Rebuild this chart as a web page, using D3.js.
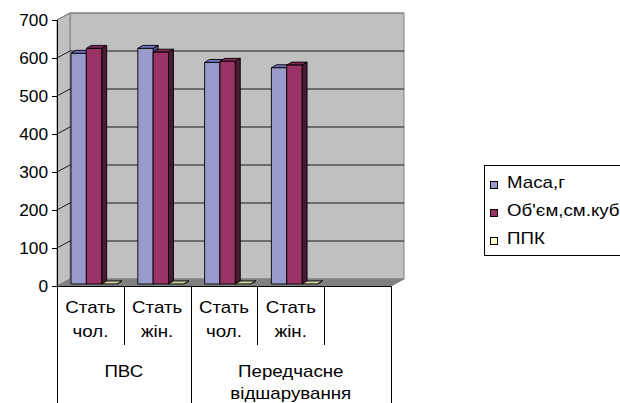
<!DOCTYPE html>
<html>
<head>
<meta charset="utf-8">
<script src="https://cdn.jsdelivr.net/npm/d3@7/dist/d3.min.js"></script>
<style>
  html, body { margin: 0; padding: 0; background: #fff; }
  svg { display: block; }
  text { font-family: "Liberation Sans", Arial, sans-serif; fill: #000; }
</style>
</head>
<body>
<svg id="chart" width="620" height="403"></svg>
<script>
// Categories (two-level axis: sex within group); the fifth slot is empty
const categories = ["Стать\nчол.", "Стать\nжін.", "Стать\nчол.", "Стать\nжін.", ""];
const categoryGroup = [0, 0, 1, 1, 1];
const groupLabels = ["ПВС", "Передчасне\nвідшарування"];

const seriesNames = ["Маса,г", "Об'єм,см.куб", "ППК"];
const masa = [607, 620, 583, 569];
const obyem = [620, 610, 586, 576];
const ppk = [0.2, 0.2, 0.2, 0.2];

const yTicks = [0, 100, 200, 300, 400, 500, 600, 700];

const seriesValues = [masa, obyem, ppk];
const seriesColors = [
  { front: "#9999cc", top: "#7373bd", side: "#4d4d80", key: "#9999cc" },
  { front: "#993366", top: "#7d2952", side: "#4a1a33", key: "#993366" },
  { front: "#ffffcc", top: "#cfcfa3", side: "#8c8c6e", key: "#ffffcc" }
];

const svg = d3.select("#chart");
const TX = 1.17;          // horizontal text stretch
const TXN = 1.08;         // stretch for axis numbers
const FS = 16;            // font size

// Oblique projection of the plot box
const left = 57, right = 391, base = 286;
const depth = { x: 13, y: -7 };
const barOff = { x: 4, y: -2 };
const barDepth = { x: 5, y: -3 };

const y = d3.scaleLinear().domain([0, 700]).range([base, base - 266]);
const x0 = d3.scaleBand().domain(d3.range(categories.length)).range([left, right]).padding(0);
const x1 = d3.scaleBand().domain(d3.range(seriesNames.length))
  .range([10, x0.bandwidth() - 10.8]).padding(0);

const poly = pts => pts.map(p => p.join(",")).join(" ");

// Walls and floor
const g = svg.append("g");
const topY = y(700);
g.append("polygon")   // back wall
  .attr("points", poly([[left + depth.x, base + depth.y], [right + depth.x, base + depth.y],
                        [right + depth.x, topY + depth.y], [left + depth.x, topY + depth.y]]))
  .attr("fill", "#c0c0c0").attr("stroke", "#808080").attr("stroke-width", 1);
g.append("polygon")   // left wall
  .attr("points", poly([[left, base], [left + depth.x, base + depth.y],
                        [left + depth.x, topY + depth.y], [left, topY]]))
  .attr("fill", "#c0c0c0").attr("stroke", "#808080").attr("stroke-width", 1);
g.append("polygon")   // floor
  .attr("points", poly([[left, base], [right, base], [right + depth.x, base + depth.y],
                        [left + depth.x, base + depth.y]]))
  .attr("fill", "#808080").attr("stroke", "#808080").attr("stroke-width", 1);

// Gridlines on back wall and left wall
yTicks.filter(t => t > 0).forEach(t => {
  const yy = y(t);
  g.append("line")
    .attr("x1", left + depth.x).attr("x2", right + depth.x)
    .attr("y1", yy + depth.y).attr("y2", yy + depth.y)
    .attr("stroke", t === 700 ? "#808080" : "#1a1a1a").attr("stroke-width", 1);
  g.append("line")
    .attr("x1", left).attr("x2", left + depth.x)
    .attr("y1", yy).attr("y2", yy + depth.y)
    .attr("stroke", t === 700 ? "#808080" : "#1a1a1a").attr("stroke-width", 1);
});

// Value axis
const yAxis = d3.axisLeft(y).tickValues(yTicks).tickSize(5).tickPadding(4);
const ya = svg.append("g").attr("transform", `translate(${left},0)`).call(yAxis);
ya.select(".domain").attr("stroke", "#000");
ya.selectAll(".tick line").attr("stroke", "#000");
ya.selectAll(".tick text")
  .attr("font-size", FS)
  .attr("font-family", "Liberation Sans, Arial, sans-serif")
  .attr("dy", "0.36em")
  .attr("x", 0)
  .attr("transform", `translate(-9,0) scale(${TXN},1)`);

// Bars
const bars = svg.append("g");
categories.forEach((c, ci) => {
  seriesValues.forEach((vals, si) => {
    const v = vals[ci];
    if (v === undefined || v === null) return;
    const xl = x0(ci) + barOff.x + x1(si);
    const w = x1.bandwidth();
    const yb = y(0) + barOff.y;
    const yt = y(v) + barOff.y;
    const col = seriesColors[si];
    const bg = bars.append("g").attr("stroke", "#000").attr("stroke-width", 0.9)
      .attr("stroke-linejoin", "round");
    bg.append("polygon")   // side
      .attr("points", poly([[xl + w, yb], [xl + w + barDepth.x, yb + barDepth.y],
                            [xl + w + barDepth.x, yt + barDepth.y], [xl + w, yt]]))
      .attr("fill", col.side);
    bg.append("polygon")   // top
      .attr("points", poly([[xl, yt], [xl + w, yt], [xl + w + barDepth.x, yt + barDepth.y],
                            [xl + barDepth.x, yt + barDepth.y]]))
      .attr("fill", col.top);
    if (yb - yt > 0.5) {
      bg.append("rect")    // front
        .attr("x", xl).attr("y", yt).attr("width", w).attr("height", yb - yt)
        .attr("fill", col.front);
    }
  });
});

// Category axis: baseline and separators
const ax = svg.append("g").attr("stroke", "#000").attr("stroke-width", 1);
ax.append("line").attr("x1", left).attr("x2", right).attr("y1", base + 0.5).attr("y2", base + 0.5);
d3.range(categories.length + 1).forEach(i => {
  const xx = Math.round(left + i * x0.bandwidth()) + 0.5;
  const isGroupEdge = i === 0 || i === categories.length || categoryGroup[i] !== categoryGroup[i - 1];
  ax.append("line").attr("x1", xx).attr("x2", xx)
    .attr("y1", base).attr("y2", isGroupEdge ? 403 : 345);
});

function label(sel, text, cx, baseY, lineH) {
  text.split("\n").forEach((ln, k) => {
    sel.append("text")
      .attr("text-anchor", "middle")
      .attr("font-size", FS)
      .attr("transform", `translate(${cx},${baseY + k * lineH}) scale(${TX},1)`)
      .text(ln);
  });
}

const lab = svg.append("g");
categories.forEach((c, ci) => {
  if (!c) return;
  label(lab, c, x0(ci) + x0.bandwidth() / 2, 313, 24);
});
groupLabels.forEach((gl, gi) => {
  const idx = categoryGroup.map((gg, i) => gg === gi ? i : -1).filter(i => i >= 0);
  const cx = (x0(idx[0]) + x0(idx[idx.length - 1]) + x0.bandwidth()) / 2;
  label(lab, gl, cx, 377, 22);
});

// Legend
const lg = svg.append("g");
lg.append("rect").attr("x", 484.5).attr("y", 165.5).attr("width", 150).attr("height", 90)
  .attr("fill", "#fff").attr("stroke", "#000");
seriesNames.forEach((s, i) => {
  const yy = 181 + i * 28;
  lg.append("rect").attr("x", 490.5).attr("y", yy + 0.5).attr("width", 7).attr("height", 7)
    .attr("fill", seriesColors[i].key).attr("stroke", "#000");
  lg.append("text")
    .attr("font-size", FS)
    .attr("transform", `translate(507,${yy + 7}) scale(${TX},1)`)
    .text(s);
});
</script>
</body>
</html>
